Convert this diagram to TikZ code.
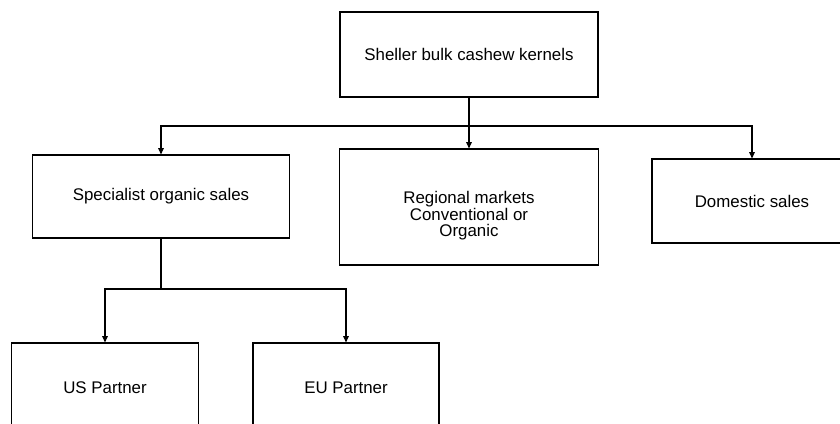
\documentclass[tikz,border=0pt]{standalone}
\usepackage{fontspec}
\setmainfont{Liberation Sans}
\usepackage{tikz}
\usetikzlibrary{positioning}
\usetikzlibrary{shapes,arrows,calc,arrows.meta}

\tikzset{
  block/.style={draw, rectangle, line width=0.8pt, align=center,
    font=\fontsize{12}{11.7}\selectfont},
  link/.style={line width=0.8pt, -{Triangle[length=4.5pt,width=4pt]}}
}

\begin{document}
\begin{tikzpicture}[x=0.025cm, y=-0.025cm]
    \clip (0,0) rectangle (840,423);
    % Nodes
    \node [block, minimum width=6.45cm, minimum height=2.125cm] (sheller) at (469,54.5) {Sheller bulk cashew kernels};
    \node [block, minimum width=6.425cm, minimum height=2.075cm] (organic) at (161,196.5) {Specialist organic sales};
    \node [block, minimum width=6.475cm, minimum height=2.9cm,
      label={[align=center, font=\fontsize{12}{11.7}\selectfont, yshift=-0.22cm]center:Regional markets\\Conventional or\\Organic}] (regional) at (469,207) {};
    \node [block, minimum width=5cm, minimum height=2.1cm] (domestic) at (752,201) {Domestic sales};
    \node [block, minimum width=4.675cm, minimum height=2.225cm] (us) at (105,387.5) {US Partner};
    \node [block, minimum width=4.65cm, minimum height=2.225cm] (eu) at (346,387.5) {EU Partner};
    \coordinate (split1) at (469,126);
    \coordinate (split2) at (161,289);
    % Arrows
    \draw [line width=0.8pt] (sheller.south) -- (split1);
    \draw [link] (split1) -| (organic.north);
    \draw [link] (split1) -- (regional.north);
    \draw [link] (split1) -| (domestic.north);
    \draw [line width=0.8pt] (organic.south) -- (split2);
    \draw [link] (split2) -| (us.north);
    \draw [link] (split2) -| (eu.north);
\end{tikzpicture}
\end{document}
